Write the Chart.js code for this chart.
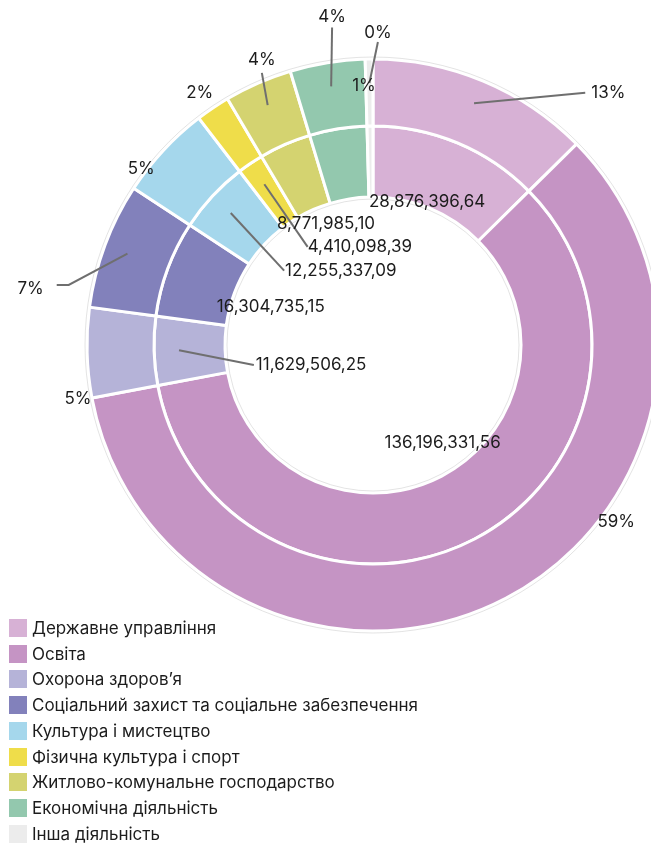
<!DOCTYPE html>
<html lang="uk">
<head>
    <meta charset="UTF-8">
    <meta name="viewport" content="width=device-width, initial-scale=1.0">
    <title>Видатки за функціональною класифікацією</title>
    <script src="https://cdn.jsdelivr.net/npm/chart.js"></script>
    <style>
        html, body {
            margin: 0;
            padding: 0;
            background: #fff;
            overflow: hidden;
        }
        .chart-wrap {
            position: absolute;
            left: 0;
            top: 0;
            width: 651px;
            height: 843px;
            overflow: hidden;
        }
        #budgetChart {
            position: absolute;
            left: 0;
            top: 0;
        }
        .legend {
            position: absolute;
            left: 9px;
            top: 615px;
            margin: 0;
            padding: 0;
            list-style: none;
            font: 17px Inter, "Noto Sans", sans-serif;
            color: #1c1c1c;
        }
        .legend li {
            height: 25.75px;
            display: flex;
            align-items: center;
            white-space: nowrap;
        }
        .legend .box {
            width: 18px;
            height: 18px;
            margin-right: 5px;
            flex: none;
        }
    </style>
</head>
<body>

    <div class="chart-wrap">
        <canvas id="budgetChart" width="746" height="690"></canvas>
        <ul class="legend" id="legend"></ul>
    </div>

    <script>
        const categories = [
            "Державне управління",
            "Освіта",
            "Охорона здоров’я",
            "Соціальний захист та соціальне забезпечення",
            "Культура і мистецтво",
            "Фізична культура і спорт",
            "Житлово-комунальне господарство",
            "Економічна діяльність",
            "Інша діяльність"
        ];
        // amounts in UAH (last two are not labelled)
        const amounts = [
            28876396.64,
            136196331.56,
            11629506.25,
            16304735.15,
            12255337.09,
            4410098.39,
            8771985.10,
            9700000,
            1000000
        ];

        const colors = ["#d7b1d5", "#c594c4", "#b5b3d8", "#8281bb", "#a5d7ec",
                        "#efdd4a", "#d4d370", "#93c8ae", "#ececec"];

        // label placement: a = degrees clockwise from top, r = distance from centre (px)
        const outerPlace = [
            { a: 43.0, r: 345, lead: "left", gap: 6 },
            { a: 126.1, r: 301 },
            { a: 259.6, r: 300 },
            { a: 279.3, r: 347, lead: "right", gap: 13, elbow: 12 },
            { a: 307.2, r: 291 },
            { a: 325.5, r: 306 },
            { a: 338.7, r: 306, lead: "bottom", gap: 6 },
            { a: 352.9, r: 331, lead: "bottom", gap: 4 },
            { a: 0.9, r: 312, lead: "bottom", gap: 2 }
        ];
        const innerPlace = [
            { a: 20.7, r: 153 },
            { a: 144.5, r: 120 },
            { a: 252.1, r: 65, lead: "left", gap: 2 },
            { a: 290.4, r: 109 },
            { a: 336.6, r: 81, lead: "left", gap: 1 },
            { a: 352.4, r: 99, lead: "left", gap: 0 },
            { a: 338.8, r: 130 },
            null,
            { a: 358.0, r: 259, text: "1%" }
        ];

        function fmtAmount(v) {
            const parts = v.toFixed(2).split(".");
            return parts[0].replace(/\B(?=(\d{3})+(?!\d))/g, ",") + "," + parts[1];
        }

        function polar(cx, cy, deg, r) {
            const t = (deg - 90) * Math.PI / 180;
            return [cx + r * Math.cos(t), cy + r * Math.sin(t)];
        }

        function drawLabel(ctx, arc, place, text, inset) {
            const p = arc.getProps(["x", "y", "startAngle", "endAngle", "outerRadius"]);
            const [tx, ty] = polar(p.x, p.y, place.a, place.r);
            if (place.lead) {
                const mid = (p.startAngle + p.endAngle) / 2;
                const sr = p.outerRadius - inset;
                const sx = p.x + sr * Math.cos(mid);
                const sy = p.y + sr * Math.sin(mid);
                const w = ctx.measureText(text).width;
                const gap = place.gap || 0;
                let ex = tx, ey = ty;
                if (place.lead === "left") ex = tx - w / 2 - gap;
                if (place.lead === "right") ex = tx + w / 2 + gap;
                if (place.lead === "bottom") ey = ty + 7 + gap;
                ctx.beginPath();
                ctx.moveTo(sx, sy);
                if (place.elbow) {
                    ctx.lineTo(ex + place.elbow, ey - 4);
                    ctx.lineTo(ex, ey - 4);
                } else {
                    ctx.lineTo(ex, ey);
                }
                ctx.stroke();
            }
            ctx.fillText(text, tx, ty);
        }

        const ringLabels = {
            id: "ringLabels",
            afterDatasetsDraw(chart) {
                const ctx = chart.ctx;
                const total = amounts.reduce((s, v) => s + v, 0);
                const outerArcs = chart.getDatasetMeta(0).data;
                const innerArcs = chart.getDatasetMeta(1).data;
                const c = outerArcs[0].getProps(["x", "y", "outerRadius"]);
                const inR = innerArcs[0].getProps(["innerRadius"]).innerRadius;

                ctx.save();
                // faint rim around the rings
                ctx.strokeStyle = "rgba(0,0,0,0.11)";
                ctx.lineWidth = 1;
                ctx.beginPath();
                ctx.arc(c.x, c.y, c.outerRadius + 2, 0, Math.PI * 2);
                ctx.stroke();
                ctx.beginPath();
                ctx.arc(c.x, c.y, inR - 2, 0, Math.PI * 2);
                ctx.stroke();

                ctx.font = "17px Inter, 'Noto Sans', sans-serif";
                ctx.fillStyle = "#1c1c1c";
                ctx.strokeStyle = "#6f6f6f";
                ctx.lineWidth = 2;
                ctx.textAlign = "center";
                ctx.textBaseline = "middle";

                outerArcs.forEach((arc, i) => {
                    const place = outerPlace[i];
                    if (!place) return;
                    const pct = Math.round(amounts[i] / total * 100) + "%";
                    drawLabel(ctx, arc, place, place.text || pct, 24);
                });
                innerArcs.forEach((arc, i) => {
                    const place = innerPlace[i];
                    if (!place) return;
                    drawLabel(ctx, arc, place, place.text || fmtAmount(amounts[i]), 25);
                });
                ctx.restore();
            }
        };

        const ctx = document.getElementById("budgetChart").getContext("2d");
        new Chart(ctx, {
            type: "doughnut",
            data: {
                labels: categories,
                datasets: [{
                    data: amounts,
                    backgroundColor: colors,
                    borderColor: "#ffffff",
                    borderWidth: 3,
                    weight: 66
                }, {
                    data: amounts,
                    backgroundColor: colors,
                    borderColor: "#ffffff",
                    borderWidth: 3,
                    weight: 70
                }]
            },
            options: {
                responsive: false,
                animation: false,
                events: [],
                radius: 286,
                cutout: "51.75%",
                layout: { padding: 0 },
                plugins: {
                    legend: { display: false },
                    tooltip: { enabled: false }
                }
            },
            plugins: [ringLabels]
        });

        const legend = document.getElementById("legend");
        categories.forEach((name, i) => {
            const li = document.createElement("li");
            const box = document.createElement("span");
            box.className = "box";
            box.style.background = colors[i];
            li.appendChild(box);
            li.appendChild(document.createTextNode(name));
            legend.appendChild(li);
        });
    </script>

</body>
</html>
